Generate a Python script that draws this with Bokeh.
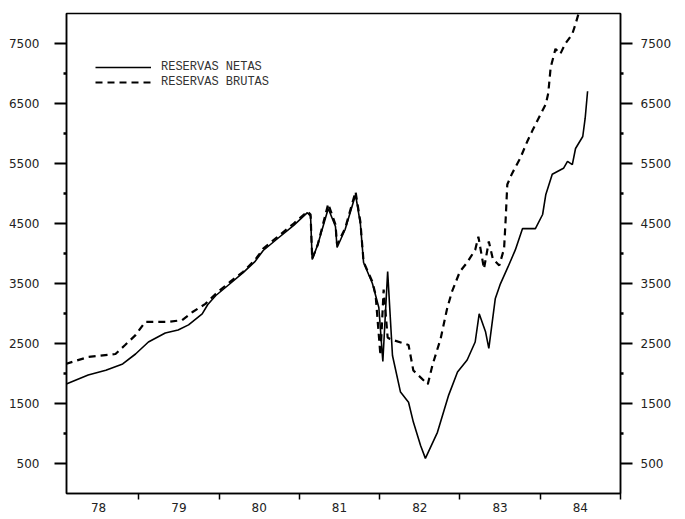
from bokeh.plotting import figure
from bokeh.models import (FixedTicker, LinearAxis, Legend, LegendItem, Range1d)
from bokeh.embed import file_html
from bokeh.resources import INLINE

# ---- data ----
netas_x = [1978.09, 1978.37, 1978.59, 1978.80, 1978.96, 1979.12, 1979.33, 1979.49,
           1979.62, 1979.79, 1979.86, 1979.96, 1980.14, 1980.30, 1980.45, 1980.55,
           1980.73, 1980.93, 1981.10, 1981.14, 1981.16, 1981.23, 1981.36, 1981.45,
           1981.47, 1981.57, 1981.70, 1981.76, 1981.80, 1981.91, 1981.99, 1982.04,
           1982.10, 1982.16, 1982.26, 1982.36, 1982.42, 1982.51, 1982.57, 1982.72,
           1982.86, 1982.97, 1983.09, 1983.19, 1983.24, 1983.32, 1983.36, 1983.44,
           1983.50, 1983.60, 1983.69, 1983.78, 1983.94, 1984.03, 1984.07, 1984.15,
           1984.29, 1984.34, 1984.40, 1984.44, 1984.53, 1984.56, 1984.59]
netas_y = [1820, 1975, 2055, 2160, 2325, 2525, 2675, 2725,
           2810, 2995, 3150, 3300, 3500, 3680, 3870, 4050,
           4250, 4470, 4680, 4620, 3900, 4150, 4750, 4450,
           4100, 4400, 4980, 4500, 3850, 3500, 3100, 2200,
           3700, 2300, 1690, 1520, 1190, 800, 585, 1020,
           1640, 2025, 2225, 2525, 2995, 2690, 2420, 3245,
           3480, 3780, 4060, 4415, 4415, 4650, 4985, 5320,
           5420, 5535, 5480, 5750, 5950, 6255, 6705]

brutas_x = [1978.09, 1978.37, 1978.71, 1978.83, 1978.96, 1979.08, 1979.37, 1979.54,
            1979.67, 1979.83, 1979.96, 1980.14, 1980.30, 1980.45, 1980.55, 1980.73,
            1980.93, 1981.10, 1981.14, 1981.16, 1981.23, 1981.36, 1981.45, 1981.47,
            1981.57, 1981.70, 1981.76, 1981.80, 1981.91, 1981.95, 1982.01, 1982.05,
            1982.10, 1982.13, 1982.36, 1982.42, 1982.60, 1982.66, 1982.76, 1982.84,
            1982.90, 1983.00, 1983.09, 1983.19, 1983.23, 1983.30, 1983.36, 1983.41,
            1983.49, 1983.55, 1983.57, 1983.59, 1983.65, 1983.75, 1983.84, 1983.90,
            1983.98, 1984.07, 1984.10, 1984.13, 1984.19, 1984.25, 1984.31, 1984.40,
            1984.44, 1984.50]
brutas_y = [2160, 2275, 2325, 2475, 2640, 2860, 2860, 2890,
            3025, 3160, 3330, 3530, 3695, 3895, 4080, 4280,
            4500, 4700, 4650, 3910, 4150, 4830, 4480, 4150,
            4415, 5030, 4530, 3860, 3530, 3310, 2300, 3400,
            2600, 2575, 2475, 2050, 1820, 2150, 2580, 3080,
            3360, 3700, 3850, 4060, 4280, 3745, 4200, 3910,
            3800, 4080, 4580, 5150, 5335, 5585, 5870, 6040,
            6255, 6490, 6670, 7100, 7410, 7325, 7490, 7660,
            7825, 8100]

year_labels = ["78", "79", "80", "81", "82", "83", "84"]
year_mid = [1978.5, 1979.5, 1980.5, 1981.5, 1982.5, 1983.5, 1984.5]
year_bounds = [1979, 1980, 1981, 1982, 1983, 1984, 1985]
y_major = [500, 1500, 2500, 3500, 4500, 5500, 6500, 7500]
y_minor = [1000, 2000, 3000, 4000, 5000, 6000, 7000]

FONT = "DejaVu Sans"

p = figure(frame_width=554, frame_height=480,
           min_border_left=66, min_border_top=13, min_border_bottom=18, min_border_right=10,
           x_range=Range1d(1978.1, 1985.0), y_range=Range1d(0, 8000),
           output_backend="svg", toolbar_location=None)
p.grid.visible = False
p.outline_line_color = "black"
p.outline_line_width = 1.5

# x axis
xa = p.xaxis[0]
xa.ticker = FixedTicker(ticks=year_mid, minor_ticks=year_bounds)
xa.major_label_overrides = {m: l for m, l in zip(year_mid, year_labels)}
xa.major_tick_out = 0
xa.major_tick_in = 0
xa.minor_tick_out = 6
xa.minor_tick_in = 0
xa.minor_tick_line_width = 1.5
xa.axis_line_width = 1.5
xa.major_label_standoff = 3
xa.major_label_text_font = FONT
xa.major_label_text_font_size = "12px"
xa.major_label_text_color = "#222222"


def style_y(ax, standoff):
    ax.ticker = FixedTicker(ticks=y_major, minor_ticks=y_minor)
    ax.major_tick_out = 12
    ax.major_tick_in = 0
    ax.major_tick_line_width = 2
    ax.minor_tick_out = 3
    ax.minor_tick_in = 0
    ax.minor_tick_line_width = 2.5
    ax.axis_line_width = 1.5
    ax.major_label_standoff = standoff
    ax.major_label_text_font = FONT
    ax.major_label_text_font_size = "12px"
    ax.major_label_text_color = "#222222"


style_y(p.yaxis[0], 15)
ra = LinearAxis()
style_y(ra, 8)
p.add_layout(ra, "right")

r_net = p.line(netas_x, netas_y, line_color="black", line_width=1.6)
r_bru = p.line(brutas_x, brutas_y, line_color="black", line_width=2.2, line_dash="7 5")

legend = Legend(items=[LegendItem(label="RESERVAS NETAS", renderers=[r_net]),
                       LegendItem(label="RESERVAS BRUTAS", renderers=[r_bru])],
                location=(29, 404), orientation="vertical",
                glyph_width=56, glyph_height=12, label_height=12,
                padding=0, margin=0, spacing=1, label_standoff=10,
                border_line_alpha=0, background_fill_alpha=0,
                label_text_font="Liberation Mono", label_text_font_size="12px",
                label_text_color="#333333")
p.add_layout(legend, "center")

open("out.html", "w").write(file_html(p, INLINE))
